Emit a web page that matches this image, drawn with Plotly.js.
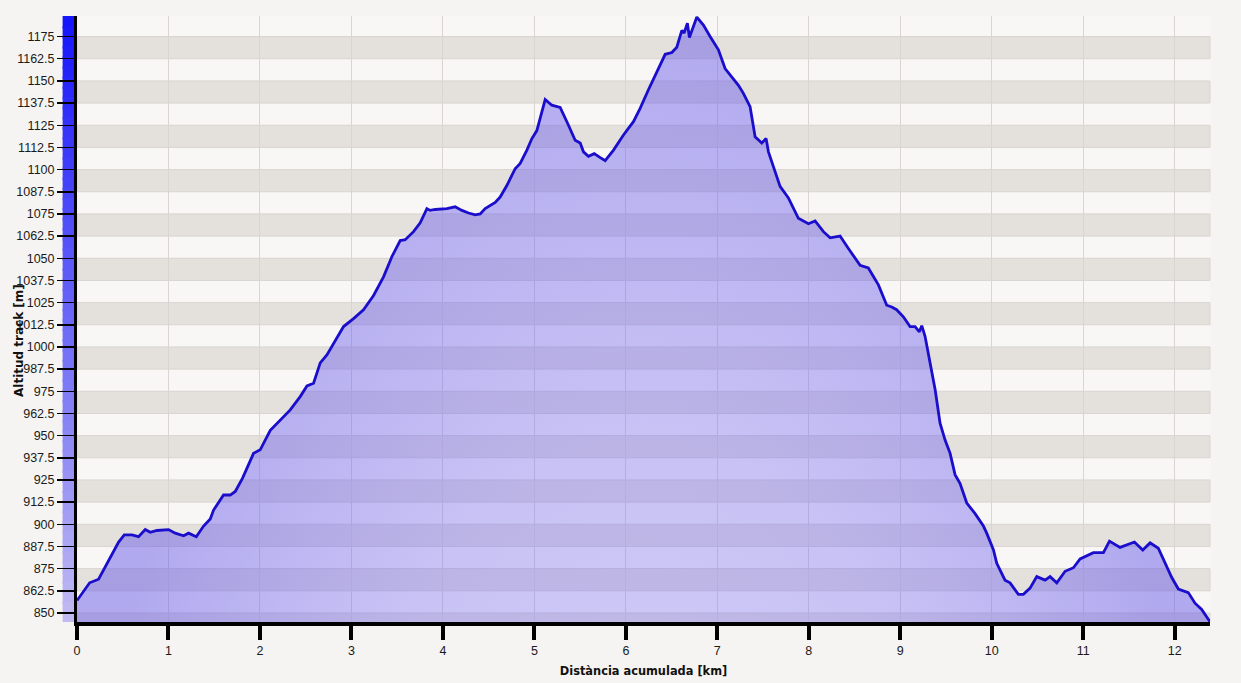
<!DOCTYPE html>
<html>
<head>
<meta charset="utf-8">
<script src="https://cdn.plot.ly/plotly-3.0.1.min.js"></script>
<style>
html,body{margin:0;padding:0;background:#f5f4f2;}
#chart{width:1241px;height:683px;}
</style>
</head>
<body>
<div id="chart"></div>
<script>
// Distance (km) and altitude (m) read from the profile
const distanceKm = [0.000,0.138,0.236,0.364,0.455,0.517,0.601,0.673,0.746,0.801,0.874,1.001,1.074,1.165,1.220,1.304,1.384,1.457,1.493,1.602,1.675,1.730,1.810,1.930,2.003,2.113,2.222,2.331,2.440,2.514,2.586,2.659,2.732,2.804,2.914,3.023,3.132,3.242,3.351,3.443,3.533,3.588,3.679,3.752,3.825,3.861,3.916,4.044,4.134,4.208,4.280,4.353,4.408,4.462,4.572,4.626,4.699,4.790,4.845,4.918,4.973,5.027,5.064,5.118,5.191,5.282,5.373,5.446,5.501,5.537,5.591,5.654,5.712,5.774,5.865,5.974,6.083,6.156,6.247,6.339,6.430,6.503,6.557,6.612,6.637,6.673,6.695,6.776,6.848,6.921,7.012,7.085,7.158,7.231,7.285,7.358,7.413,7.486,7.533,7.559,7.686,7.777,7.886,7.996,8.069,8.160,8.233,8.342,8.433,8.561,8.651,8.761,8.852,8.907,8.960,9.034,9.107,9.162,9.209,9.235,9.271,9.326,9.381,9.435,9.490,9.545,9.599,9.654,9.727,9.818,9.909,9.945,10.018,10.055,10.091,10.145,10.200,10.291,10.346,10.419,10.492,10.583,10.638,10.711,10.802,10.893,10.966,11.111,11.221,11.287,11.403,11.476,11.560,11.651,11.731,11.821,11.895,11.968,12.040,12.149,12.222,12.295,12.367,12.386];
const altitudeM = [857,867,869,881,890,894,894,893,897,895.5,896.5,897,895,893.5,895,893,899,903,908,916.5,916.5,918.5,926,940,942,953,959,964.5,972,978,979.5,991,995.5,1002,1011.5,1016,1021,1029,1039.5,1051,1060,1060.5,1065,1070,1078,1077,1077.5,1078,1079,1077,1075.5,1074.5,1075,1078,1081.5,1084.5,1091,1100.5,1103.5,1111,1117.5,1122,1129.5,1139.5,1136.3,1135,1125,1116.5,1115,1110,1107.5,1109,1107,1105,1111,1119.5,1127,1134.5,1145,1155,1165,1166,1169,1178.5,1177,1182.5,1174.5,1186,1181.5,1175,1167.5,1157,1152.5,1147.5,1143,1135.5,1118.5,1115,1117.5,1110,1090.5,1084,1072.5,1069.5,1071,1065,1061.5,1062.5,1055.5,1046,1044.5,1035,1023.5,1022.5,1021,1017,1011.5,1011.5,1008.5,1012,1006,991,976,957,947.5,940,928,923,912,906,899,895,885.7,878,874.4,868.5,867,860.5,860.5,864,870.5,868.5,870.5,867,873.5,875.5,880.5,884,884,890.5,887,888.5,890,885.5,889.5,886.5,878,870,863.5,861.5,855.5,852,846.5,845];

const yTickVals = [850,862.5,875,887.5,900,912.5,925,937.5,950,962.5,975,987.5,1000,1012.5,1025,1037.5,1050,1062.5,1075,1087.5,1100,1112.5,1125,1137.5,1150,1162.5,1175];
const yTickText = ['850','862.5','875','887.5','900','912.5','925','937.5','950','962.5','975','987.5','1000','1012.5','1025','1037.5','1050','1062.5','1075','1087.5','1100','1112.5','1125','1137.5','1150','1162.5','1175'];
const xTickVals = [0,1,2,3,4,5,6,7,8,9,10,11,12];
const xTickText = ['0','1','2','3','4','5','6','7','8','9','10','11','12'];
const bandStarts = [837.5,862.5,887.5,912.5,937.5,962.5,987.5,1012.5,1037.5,1062.5,1087.5,1112.5,1137.5,1162.5];

const shapes = [];
// alternating gray horizontal bands
bandStarts.forEach(b => {
  shapes.push({type:'rect', xref:'paper', yref:'y', x0:0, x1:1, y0:b, y1:b+12.5,
    fillcolor:'#e4e1dd', line:{color:'#d8d5d1', width:1}, layer:'below'});
});
// blue gradient strip left of the y axis
const nSteps = 60;
const stripTop = [22,22,250], stripBot = [192,186,242];
for (let i = 0; i < nSteps; i++) {
  const t = i/(nSteps-1);
  const c = stripTop.map((v,k)=>Math.round(v + (stripBot[k]-v)*t));
  const col = `rgb(${c[0]},${c[1]},${c[2]})`;
  shapes.push({type:'rect', xref:'paper', yref:'paper', x0:-0.0127, x1:-0.001,
    y0:Math.max(0, 1 - (i+1)/nSteps - 0.004), y1:1 - i/nSteps,
    fillcolor:col, line:{width:0}, layer:'below'});
}

const trace = {
  x: distanceKm, y: altitudeM, type:'scatter', mode:'lines',
  line:{color:'#1a0ecc', width:2.8},
  fill:'tozeroy',
  fillcolor:'rgba(110,95,240,0.38)',
  fillgradient:{type:'radial', colorscale:[[0,'rgba(130,115,252,0.28)'],[0.6,'rgba(115,100,245,0.36)'],[1,'rgba(100,85,232,0.48)']]},
  hoverinfo:'skip'
};

const font = {family:'Liberation Sans, Arial, sans-serif', size:12.5, color:'#1a1a1a'};

const layout = {
  width:1241, height:683,
  margin:{l:77, r:31, t:16, b:61},
  paper_bgcolor:'#f5f4f2', plot_bgcolor:'#f8f7f5',
  font: font,
  showlegend:false,
  xaxis:{
    range:[0,12.386], tickvals:xTickVals, ticktext:xTickText,
    showline:true, linecolor:'#000', linewidth:4, mirror:false,
    ticks:'outside', ticklen:14, tickwidth:4, tickcolor:'#000',
    showgrid:true, gridcolor:'#d9d6d2', gridwidth:1, zeroline:false,
    tickfont:font,
    title:{text:'Distància acumulada [km]', font:{family:'DejaVu Sans, Verdana, sans-serif', size:11.4, color:'#111', weight:'bold'}, standoff:11}
  },
  yaxis:{
    range:[844.9,1186.6], tickvals:yTickVals, ticktext:yTickText,
    showline:true, linecolor:'#000', linewidth:3,
    ticks:'outside', ticklen:17, tickwidth:1.5, tickcolor:'#000',
    showgrid:false, zeroline:false, tickfont:font
  },
  shapes: shapes,
  annotations:[{
    text:'<b>Altitud track [m]</b>', xref:'paper', yref:'paper', x:0, y:0.4637,
    xshift:-58, xanchor:'center', yanchor:'middle', textangle:-90, showarrow:false,
    font:{family:'DejaVu Sans, Verdana, sans-serif', size:12, color:'#111'}
  }]
};

Plotly.newPlot('chart',[trace],layout,{displayModeBar:false, staticPlot:true});
</script>
</body>
</html>
